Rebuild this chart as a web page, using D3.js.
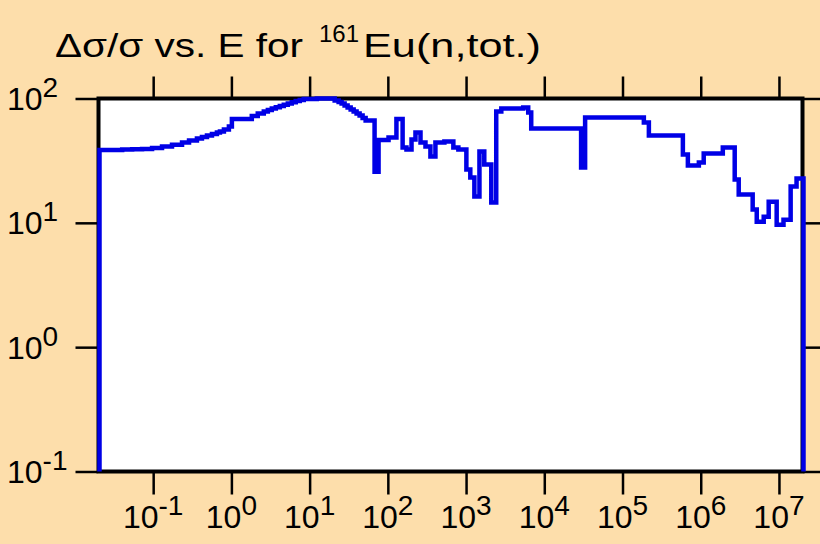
<!DOCTYPE html>
<html>
<head>
<meta charset="utf-8">
<script src="https://cdn.jsdelivr.net/npm/d3@7"></script>
<style>
  html, body { margin: 0; padding: 0; background: #fddeab; }
  svg { display: block; font-family: "Liberation Sans", Arial, sans-serif; }
</style>
</head>
<body>
<div id="chart"></div>
<script>
// energy (eV) where each step starts, and relative uncertainty (%)
const energy = [
  0.02, 0.029, 0.039, 0.0523, 0.070, 0.094, 0.126, 0.169, 0.227, 0.279,
  0.352, 0.408, 0.473, 0.548, 0.634, 0.693, 0.779, 0.902, 0.985, 1.77,
  2.11, 2.52, 2.84, 3.19, 3.59, 4.04, 4.54, 5.11, 5.74, 6.45,
  7.26, 8.17, 12.0, 20.3, 22.8, 24.9, 27.2, 29.7, 32.5, 35.5,
  38.7, 42.3, 46.2, 50.5, 65.7, 73.9, 99.1, 125, 150, 168,
  195, 219, 254, 294, 340, 394, 513, 668, 774, 980,
  1100, 1240, 1440, 1660, 2040, 2360, 2740, 5220, 6050, 6610,
  28700, 32300, 182000, 211000, 574000, 665000, 919000, 1.06e6, 1.86e6, 2.64e6,
  2.97e6, 4.48e6, 5.05e6, 6.20e6, 7.18e6, 9.08e6, 1.11e7, 1.37e7, 1.63e7
];
const relErr = [
  38.5, 38.6, 38.8, 39.0, 39.2, 40.0, 41.1, 42.4, 44.2, 45.9,
  47.6, 49.0, 50.3, 51.8, 53.2, 54.2, 56.3, 59.5, 68.4, 72.3,
  75.7, 78.6, 80.8, 83.1, 84.9, 87.0, 89.1, 91.1, 93.4, 95.5,
  97.3, 99.1, 100, 96.3, 93.7, 91.1, 87.8, 84.6, 81.5, 78.6,
  75.7, 72.9, 69.7, 66.5, 25.8, 46.4, 48.5, 68.4, 40.3, 38.8,
  46.8, 53.2, 44.2, 41.1, 34.1, 44.2, 45.1, 40.3, 38.8, 26.8,
  23.1, 16.3, 37.4, 29.4, 14.6, 78.6, 83.1, 84.6, 77.1, 57.3,
  27.8, 70.3, 64.1, 50.3, 35.4, 28.9, 30.5, 36.1, 40.3, 22.3,
  16.9, 12.8, 10.2, 11.2, 14.8, 9.67, 10.6, 19.6, 22.7
];
const xDomain = [0.02, 2e7];
const yDomain = [0.1, 100];
const xTickExp = [-1, 0, 1, 2, 3, 4, 5, 6, 7];
const yTickExp = [-1, 0, 1, 2];
const title = { main: "\u0394\u03c3/\u03c3 vs. E for", sup: "161", rest: "Eu(n,tot.)" };

const W = 820, H = 544;
const box = { left: 98.5, right: 802.5, top: 98.5, bottom: 471.5 };

const svg = d3.select("#chart").append("svg")
  .attr("width", W).attr("height", H);

svg.append("rect").attr("width", W).attr("height", H).attr("fill", "#fddeab");

const x = d3.scaleLog().domain(xDomain).range([box.left, box.right]);
const y = d3.scaleLog().domain(yDomain).range([box.bottom, box.top]);

// plot area
svg.append("rect")
  .attr("x", box.left).attr("y", box.top)
  .attr("width", box.right - box.left).attr("height", box.bottom - box.top)
  .attr("fill", "#fff");

// tick marks (outside, on all four sides)
const xTicks = xTickExp.map(e => Math.pow(10, e));
const yTicks = yTickExp.map(e => Math.pow(10, e));

function styleAxis(g) {
  g.select(".domain").remove();
  g.selectAll("line").attr("stroke", "#000").attr("stroke-width", 2.5);
  g.selectAll("text").remove();
}

svg.append("g").attr("transform", `translate(0,${box.top - 1})`)
  .call(d3.axisTop(x).tickValues(xTicks).tickSize(21)).call(styleAxis);
svg.append("g").attr("transform", `translate(0,${box.bottom + 1})`)
  .call(d3.axisBottom(x).tickValues(xTicks).tickSize(22)).call(styleAxis);
svg.append("g").attr("transform", `translate(${box.left - 1},0)`)
  .call(d3.axisLeft(y).tickValues(yTicks).tickSize(22)).call(styleAxis);
svg.append("g").attr("transform", `translate(${box.right + 1},0)`)
  .call(d3.axisRight(y).tickValues(yTicks).tickSize(20)).call(styleAxis);

// frame
svg.append("rect")
  .attr("x", box.left).attr("y", box.top)
  .attr("width", box.right - box.left).attr("height", box.bottom - box.top)
  .attr("fill", "none").attr("stroke", "#000").attr("stroke-width", 4);

// uncertainty curve as a step line, closed down to the axis at both ends
const pts = energy.map((e, i) => [e, relErr[i]]);
const path = [[xDomain[0], yDomain[0]], ...pts,
  [xDomain[1], relErr[relErr.length - 1]], [xDomain[1], yDomain[0]]];

const line = d3.line()
  .x(d => x(d[0]))
  .y(d => y(d[1]))
  .curve(d3.curveStepAfter);

svg.append("path")
  .datum(path)
  .attr("d", line)
  .attr("fill", "none")
  .attr("stroke", "#0000e6")
  .attr("stroke-width", 4.5)
  .attr("stroke-linejoin", "miter")
  .attr("transform", "translate(1,0)");

// x tick labels: 10^n centred on the tick
const xl = svg.append("g").attr("font-size", 32).attr("fill", "#000");
xTickExp.forEach(e => {
  const t = xl.append("text")
    .attr("x", x(Math.pow(10, e)))
    .attr("y", 528)
    .attr("text-anchor", "middle");
  t.append("tspan").text("10");
  t.append("tspan").attr("dy", -13).attr("font-size", 28).text(e);
});

// y tick labels
const yl = svg.append("g").attr("font-size", 32).attr("fill", "#000");
yTickExp.forEach(e => {
  const t = yl.append("text")
    .attr("x", 7)
    .attr("y", y(Math.pow(10, e)) + 11.5);
  t.append("tspan").text("10");
  t.append("tspan").attr("dy", -13).attr("font-size", 28).text(e);
});

// title, in three pieces fitted to the widths they take in the original
const tg = svg.append("g").attr("font-size", 34).attr("fill", "#000");
tg.append("text").attr("x", 55).attr("y", 57)
  .attr("textLength", 248).attr("lengthAdjust", "spacingAndGlyphs").text(title.main);
tg.append("text").attr("x", 319).attr("y", 42).attr("font-size", 24)
  .attr("textLength", 40).attr("lengthAdjust", "spacingAndGlyphs").text(title.sup);
tg.append("text").attr("x", 363).attr("y", 57)
  .attr("textLength", 178).attr("lengthAdjust", "spacingAndGlyphs").text(title.rest);
</script>
</body>
</html>
